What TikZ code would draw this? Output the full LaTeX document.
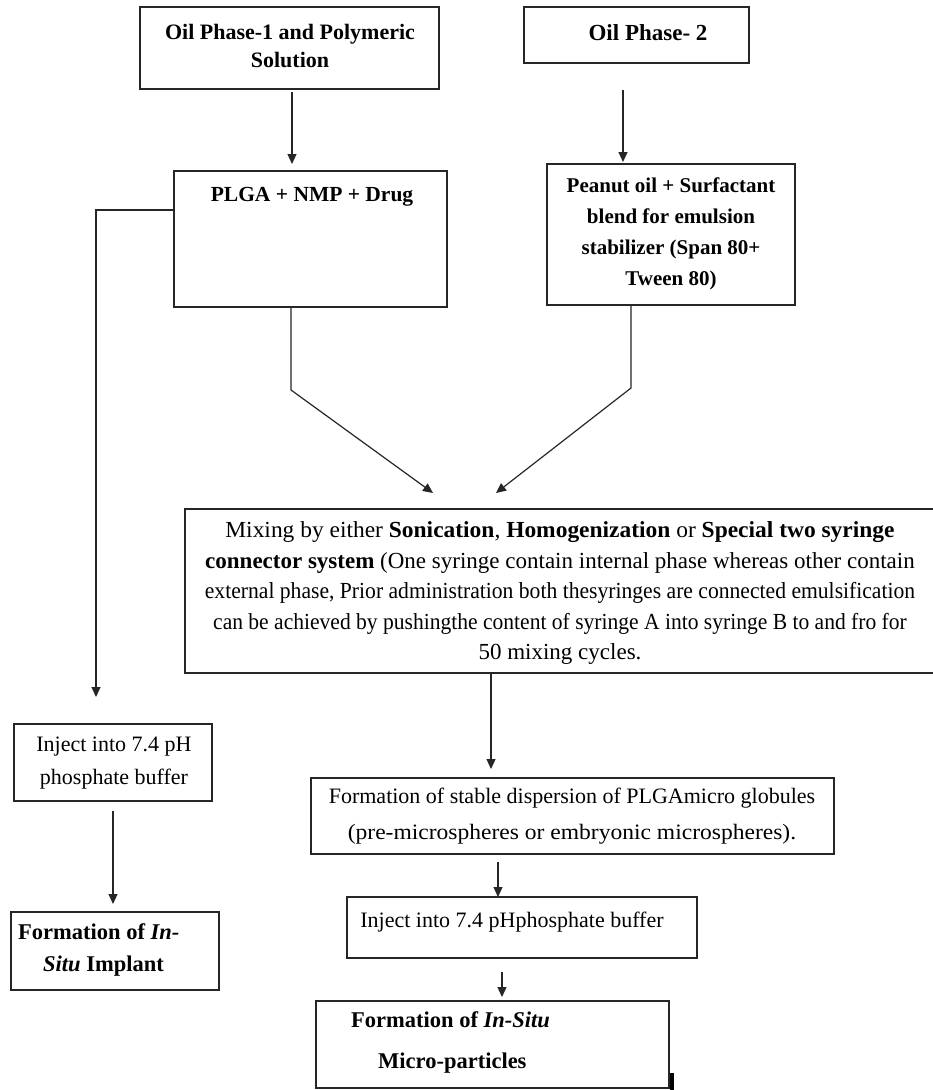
\documentclass[tikz,border=0pt]{standalone}
\usepackage{fontspec}
\setmainfont{Liberation Serif}
\usetikzlibrary{arrows.meta}
\begin{document}
\begin{tikzpicture}[x=1pt,y=-1pt,
  box/.style={draw=black!85, line width=1.5pt, inner sep=0pt, outer sep=0pt},
  arr/.style={draw=black!85, line width=1.2pt, -{Triangle[length=10pt,width=9pt]}},
  txt/.style={font=\fontsize{22}{28}\selectfont, align=center, inner sep=0pt},
  btxt/.style={txt, font=\fontsize{22}{28}\selectfont\bfseries}
]
\useasboundingbox (0,0) rectangle (933,1090);
\clip (0,0) rectangle (933,1090);
\fill[white] (0,0) rectangle (933,1090);

% boxes
\node[box, minimum width=299pt, minimum height=82pt] (b1) at (289.5,48) {};
\node[box, minimum width=225pt, minimum height=56pt] (b2) at (636.5,35) {};
\node[box, minimum width=273pt, minimum height=136pt] (plga) at (310.5,239) {};
\node[box, minimum width=248pt, minimum height=141pt] (pea) at (671,234.5) {};
\node[box, minimum width=760pt, minimum height=164pt] (mix) at (565,591) {};
\node[box, minimum width=523pt, minimum height=76pt] (disp) at (572.5,816) {};
\node[box, minimum width=350pt, minimum height=61pt] (inj2) at (522,927.5) {};
\node[box, minimum width=353pt, minimum height=87pt] (fin) at (492.5,1044.5) {};
\node[box, minimum width=198pt, minimum height=77pt] (inj1) at (113,762.5) {};
\node[box, minimum width=208pt, minimum height=78pt] (impl) at (115,951) {};

% texts
\node[btxt] (t1) at (290,46) {Oil Phase-1 and Polymeric\\Solution};
\node[btxt, font=\fontsize{23}{28}\selectfont\bfseries] (t2) at (648,33) {Oil Phase- 2};
\node[btxt, font=\fontsize{21.5}{28}\selectfont\bfseries] (t3) at (312,197) {PLGA + NMP + Drug};
\node[btxt, font=\fontsize{21}{31}\selectfont\bfseries] (t4) at (671,234) {Peanut oil + Surfactant\\blend for emulsion\\stabilizer (Span 80+\\Tween 80)};
\node[txt, font=\fontsize{23}{30.5}\selectfont] (t5) at (560,593) {\scalebox{1.02}[1]{Mixing by either \textbf{Sonication}, \textbf{Homogenization} or \textbf{Special two syringe}}\\\textbf{connector system} (One syringe contain internal phase whereas other contain\\\scalebox{0.94}[1]{external phase, Prior administration both thesyringes are connected emulsification}\\\scalebox{0.937}[1]{can be achieved by pushingthe content of syringe A into syringe B to and fro for}\\50 mixing cycles.};
\node[txt, font=\fontsize{22}{36}\selectfont] (t6) at (572,816) {Formation of stable dispersion of PLGAmicro globules\\\scalebox{1.07}[1]{(pre-microspheres or embryonic microspheres).}};
\node[txt] (t7) at (512,922) {Inject into 7.4 pHphosphate buffer};
\node[btxt, anchor=west, font=\fontsize{22.5}{28}\selectfont\bfseries] (t8a) at (351,1020) {Formation of \textit{In-Situ}};
\node[btxt, anchor=west, font=\fontsize{22.5}{28}\selectfont\bfseries] (t8b) at (378,1063) {Micro-particles};
\node[txt, font=\fontsize{22}{33}\selectfont] (t9) at (114,763) {Inject into 7.4 pH\\phosphate buffer};
\node[btxt, anchor=west, font=\fontsize{22.5}{28}\selectfont\bfseries] (t10a) at (18,932) {Formation of \textit{In-}};
\node[btxt, anchor=west, font=\fontsize{22.5}{28}\selectfont\bfseries] (t10b) at (43,966) {\textit{Situ} Implant};

% connector coordinates
\coordinate (c1) at (292,0);
\coordinate (c2) at (623,0);
\coordinate (cL) at (96,210);
\coordinate (k1) at (291,390);
\coordinate (tipA) at (433,493);
\coordinate (k2) at (631,388);
\coordinate (tipB) at (496,493);
\coordinate (c3) at (491,0);
\coordinate (c4) at (498,0);
\coordinate (c5) at (502,0);

% connectors
\draw[arr, shorten <=3pt, shorten >=7pt] (b1.south -| c1) -- (plga.north -| c1);
\draw[arr, shorten <=27pt, shorten >=2pt] (b2.south -| c2) -- (pea.north -| c2);
\draw[arr, shorten >=27pt] (cL -| plga.west) -- (cL) -- (cL |- inj1.north);
\draw[arr] (plga.south -| k1) -- (k1) -- (tipA);
\draw[arr] (pea.south -| k2) -- (k2) -- (tipB);
\draw[arr, shorten >=9pt] (mix.south -| c3) -- (disp.north -| c3);
\draw[arr, shorten <=8pt] (disp.south -| c4) -- (inj2.north -| c4);
\draw[arr, shorten <=14pt, shorten >=4pt] (inj2.south -| c5) -- (fin.north -| c5);
\draw[arr, shorten <=10pt, shorten >=8pt] (inj1.south) -- (impl.north -| inj1.south);

% stray thick mark at bottom right of last box
\draw[line width=4pt] (672,1073) -- (672,1092);
\end{tikzpicture}
\end{document}
